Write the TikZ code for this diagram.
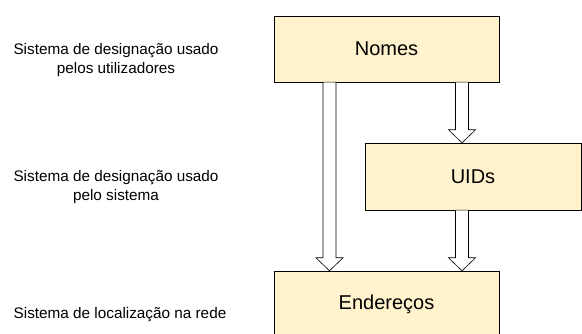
\documentclass[tikz,border=0pt]{standalone}
\usepackage{fontspec}
\setmainfont{Liberation Sans}
\usetikzlibrary{calc}

\definecolor{boxfill}{HTML}{FFF2CC}

\tikzset{
    layerbox/.style={draw=black, fill=boxfill, minimum width=225pt, minimum height=66pt,
        inner sep=0pt, font=\fontsize{20}{24}\selectfont},
    sidetext/.style={align=center, inner sep=0pt, font=\fontsize{15.3}{19}\selectfont},
    bigarrow/.style={draw=black, fill=white, line width=0.6pt, to path={
        let \p1=(\tikztostart), \p2=(\tikztotarget) in
        (\x1-6.5pt,\y1) -- (\x1-6.5pt,\y2+13pt) -- (\x1-13.5pt,\y2+13pt) -- (\x2,\y2)
        -- (\x1+13.5pt,\y2+13pt) -- (\x1+6.5pt,\y2+13pt) -- (\x1+6.5pt,\y1) -- cycle}}
}

\begin{document}
\begin{tikzpicture}[x=1pt, y=-1pt]
        \useasboundingbox (0,0) rectangle (582,334);

        % === BOXES ===
        \node[layerbox] (nomes) at (386.5,49) {Nomes};
        \node[layerbox, minimum width=216pt, minimum height=67pt] (uids) at (473,176.5) {UIDs};
        \node[layerbox] (enderecos) at (386.5,304) {Endereços};

        % === HOLLOW ARROWS ===
        \draw[bigarrow] ([xshift=-57pt]nomes.south) to ([xshift=-57pt]enderecos.north);
        \draw[bigarrow] ([xshift=75.5pt]nomes.south) to ([xshift=-11pt]uids.north);
        \draw[bigarrow] ([xshift=-11pt]uids.south) to ([xshift=75.5pt]enderecos.north);

        % === SIDE LABELS ===
        \node[sidetext] (lblnomes) at (116,60) {Sistema de designação usado\\pelos utilizadores};
        \node[sidetext] (lbluids) at (116,187) {Sistema de designação usado\\pelo sistema};
        \node[sidetext] (lblend) at (120,315) {Sistema de localização na rede};

    \end{tikzpicture}
\end{document}
